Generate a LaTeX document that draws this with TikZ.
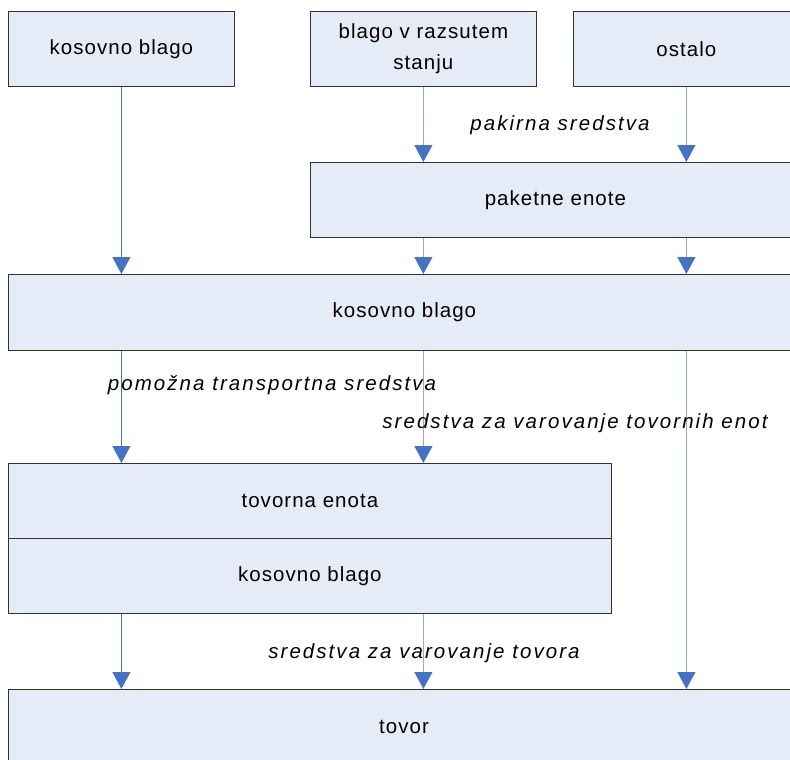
\documentclass[tikz,border=0pt]{standalone}
\usepackage{fontspec}
\setmainfont[LetterSpace=5,ItalicFeatures={LetterSpace=10}]{Liberation Sans}
\usetikzlibrary{arrows.meta}
\definecolor{boxfill}{HTML}{E6ECF7}
\definecolor{arrowblue}{HTML}{4472C4}
\definecolor{lineblue}{HTML}{8FAADC}
\tikzset{
  box/.style={draw=black!80, fill=boxfill, line width=0.8pt, anchor=north west,
    inner sep=0pt, align=center, font=\fontsize{20.5}{31}\selectfont},
  flow/.style={draw=lineblue, line width=1pt,
    -{Triangle[width=18pt,length=17pt,color=arrowblue]}},
  flowdark/.style={flow, draw=arrowblue},
  means/.style={font=\fontsize{20.5}{24}\selectfont\itshape}
}
\begin{document}
\begin{tikzpicture}[x=1pt,y=1pt]
    \useasboundingbox (0,0) rectangle (790,-760);
    \clip (0,0) rectangle (790,-760);

    \node[box, minimum width=226pt, minimum height=75pt] (bulk) at (8,-11) {kosovno blago};
    \node[box, minimum width=226pt, minimum height=75pt] (loose) at (310,-11) {blago v razsutem\\stanju};
    \node[box, minimum width=226pt, minimum height=75pt] (other) at (573,-11) {ostalo};
    \node[box, minimum width=490pt, minimum height=75pt] (pack) at (310,-162) {paketne enote};
    \node[box, minimum width=792pt, minimum height=76pt] (piece) at (8,-274) {kosovno blago};
    \node[box, minimum width=603pt, minimum height=75pt] (unit) at (8,-463) {tovorna enota};
    \node[box, minimum width=603pt, minimum height=75pt] (inner) at (8,-538) {kosovno blago};
    \node[box, minimum width=792pt, minimum height=80pt] (cargo) at (8,-689) {};
    \node[font=\fontsize{20.5}{24}\selectfont] (cargotext) at (404,-727) {tovor};

    \draw[flowdark] (bulk.south) -- (bulk.south |- piece.north);
    \draw[flow] (loose.south) -- (loose.south |- pack.north);
    \draw[flow] (other.south) -- (other.south |- pack.north);
    \draw[flow] (loose.south |- pack.south) -- (loose.south |- piece.north);
    \draw[flow] (other.south |- pack.south) -- (other.south |- piece.north);
    \draw[flowdark] (bulk.south |- piece.south) -- (bulk.south |- unit.north);
    \draw[flow] (loose.south |- piece.south) -- (loose.south |- unit.north);
    \draw[flow] (other.south |- piece.south) -- (other.south |- cargo.north);
    \draw[flowdark] (bulk.south |- inner.south) -- (bulk.south |- cargo.north);
    \draw[flow] (loose.south |- inner.south) -- (loose.south |- cargo.north);

    \node[means] (packing) at (560,-125) {pakirna sredstva};
    \node[means] (aux) at (272,-385) {pomožna transportna sredstva};
    \node[means] (secunit) at (575,-423) {sredstva za varovanje tovornih enot};
    \node[means] (seccargo) at (424,-653) {sredstva za varovanje tovora};
\end{tikzpicture}
\end{document}
